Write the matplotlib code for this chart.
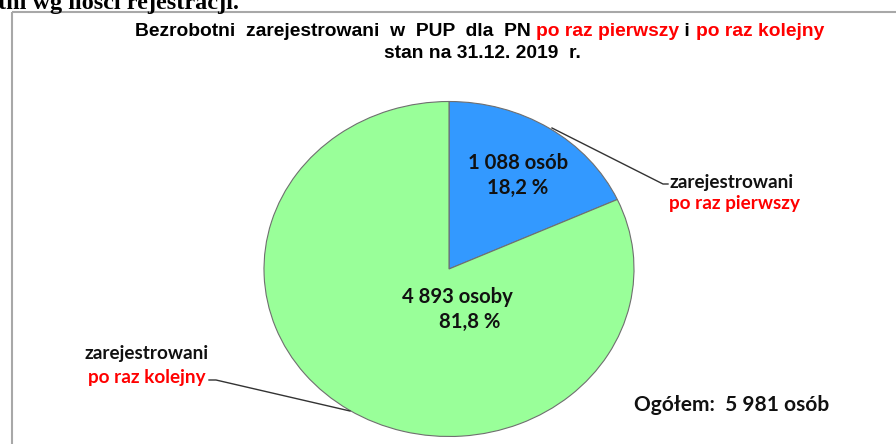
import matplotlib
matplotlib.use("Agg")
import matplotlib.pyplot as plt
from matplotlib.patches import Rectangle

# ---- data ----
categories = ["po raz pierwszy", "po raz kolejny"]
counts = [1088, 4893]
count_labels = ["1 088 osób", "4 893 osoby"]
pct_labels = ["18,2 %", "81,8 %"]
total_label = "Ogółem:  5 981 osób"
colors = ["#3399FF", "#99FF99"]

W, H = 896, 444
fig = plt.figure(figsize=(W / 100, H / 100), dpi=100)

# pie axes (elliptical pie, pixel bounding box)
cx, cy, rx, ry = 449, 269, 185, 167.5
pax = fig.add_axes([(cx - rx) / W, 1 - (cy + ry) / H, 2 * rx / W, 2 * ry / H])
pax.pie(counts, colors=colors, startangle=90, counterclock=False, radius=1,
        wedgeprops=dict(edgecolor="#6f6f6f", linewidth=0.8))
pax.set_aspect("auto")
pax.set_xlim(-1, 1)
pax.set_ylim(-1, 1)
pax.axis("off")
pax.set_zorder(1)

# overlay axes in pixel coordinates
ax = fig.add_axes([0, 0, 1, 1])
ax.set_xlim(0, W)
ax.set_ylim(H, 0)
ax.axis("off")
ax.set_zorder(2)
ax.patch.set_alpha(0)

# frame
ax.add_patch(Rectangle((12, 12), 900, 450, fill=False, edgecolor="#a8a8a8", linewidth=1.5))

# cut-off heading at top (cut in the reference too)
ax.text(-2, 9, "tni wg ilości rejestracji.", family="Liberation Serif", weight="bold",
        fontsize=17.5, color="black", ha="left", va="baseline")

fig.canvas.draw()
renderer = fig.canvas.get_renderer()

def multicolor(parts, xc, y, **kw):
    texts = []
    for s, c in parts:
        t = ax.text(0, y, s, color=c, ha="left", va="center", **kw)
        texts.append(t)
    widths = [t.get_window_extent(renderer).width for t in texts]
    total = sum(widths)
    x = xc - total / 2
    for t, w in zip(texts, widths):
        t.set_x(x)
        x += w

tkw = dict(family="Liberation Sans", weight="bold", fontsize=13.9)
multicolor([("Bezrobotni  zarejestrowani  w  PUP  dla  PN ", "black"),
            (categories[0], "#FF0000"), (" i ", "black"), (categories[1], "#FF0000")],
           479.5, 32, **tkw)
ax.text(482.5, 53, "stan na 31.12. 2019  r.", ha="center", va="center", color="black", **tkw)

lkw = dict(family="Lato", weight="bold", fontsize=14.6, color="#111111", va="center")
ax.text(518, 163, count_labels[0], ha="center", **lkw)
ax.text(518, 188, pct_labels[0], ha="center", **lkw)
ax.text(457, 297, count_labels[1], ha="center", **lkw)
ax.text(470, 322, pct_labels[1], ha="center", **lkw)

akw = dict(family="Lato", weight="bold", fontsize=13.6, va="center")
ax.text(669, 182, "zarejestrowani", ha="left", color="#111111", **akw)
ax.text(669, 203, categories[0], ha="left", color="#FF0000", **akw)
ax.plot([552, 663, 668], [128, 184, 184], color="#333333", lw=1.0)

ax.text(147, 353, "zarejestrowani", ha="center", color="#111111", **akw)
ax.text(147, 377, categories[1], ha="center", color="#FF0000", **akw)
ax.plot([209, 216, 350], [380, 380, 411], color="#333333", lw=1.0)

ax.text(731.5, 405, total_label, ha="center", family="Lato", weight="bold",
        fontsize=15, color="#111111", va="center")

fig.savefig("out.png", dpi=100)
